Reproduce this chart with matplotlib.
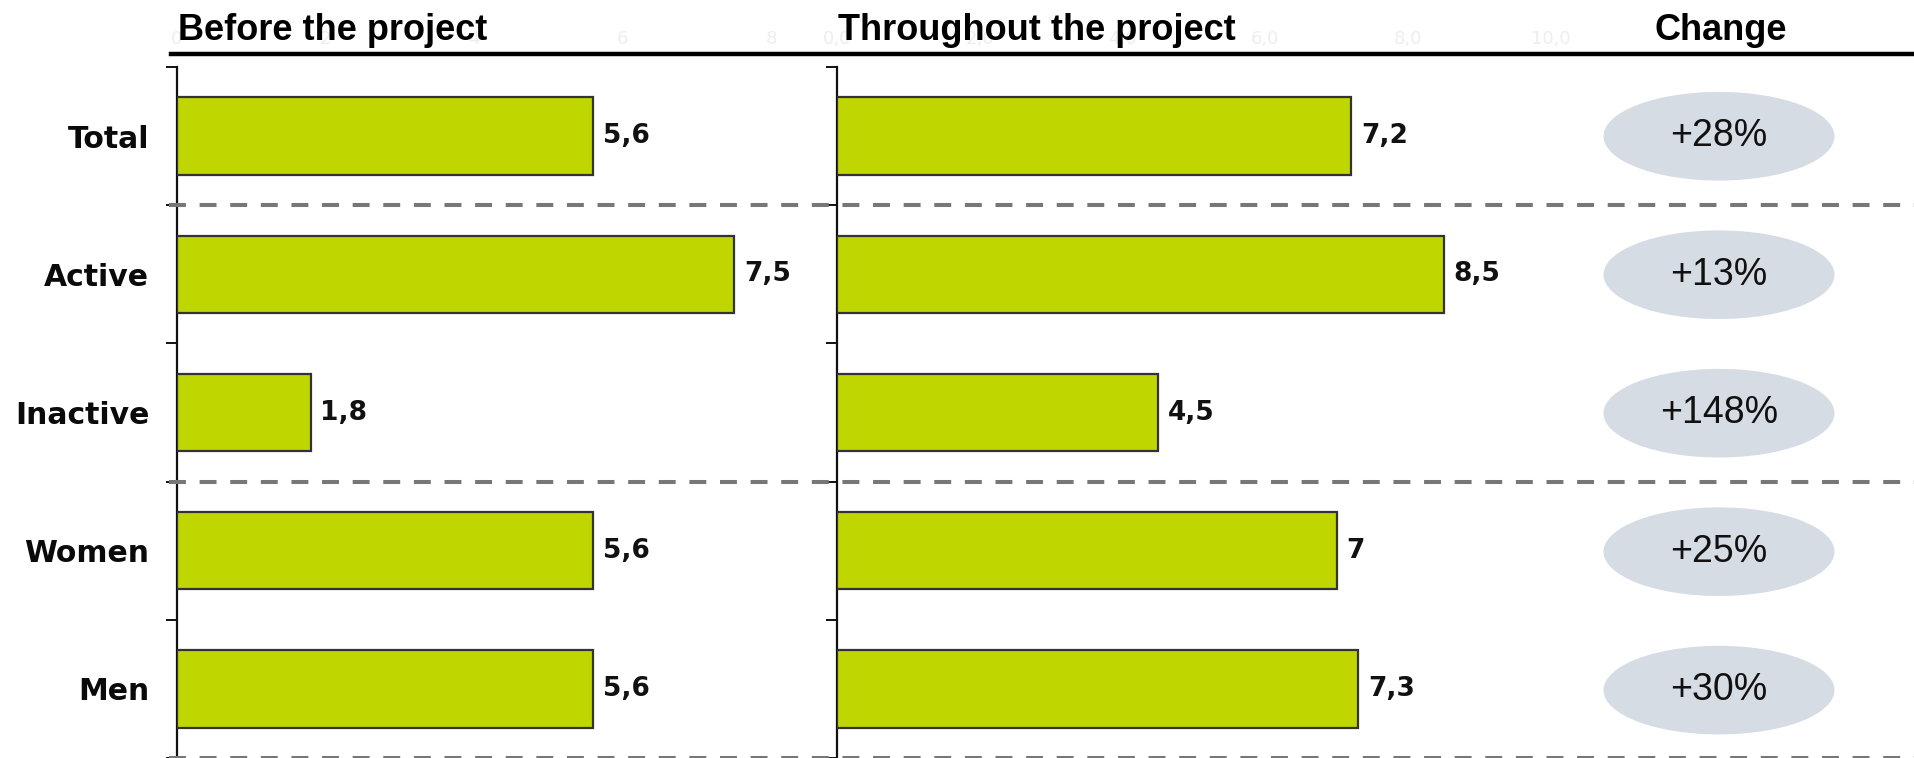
import matplotlib
matplotlib.use("Agg")
import matplotlib.pyplot as plt
from matplotlib.patches import Ellipse
from matplotlib.lines import Line2D
from matplotlib.transforms import blended_transform_factory

# Data
categories = ["Total", "Active", "Inactive", "Women", "Men"]
before_values = [5.6, 7.5, 1.8, 5.6, 5.6]
before_labels = ["5,6", "7,5", "1,8", "5,6", "5,6"]
during_values = [7.2, 8.5, 4.5, 7.0, 7.3]
during_labels = ["7,2", "8,5", "4,5", "7", "7,3"]
change_labels = ["+28%", "+13%", "+148%", "+25%", "+30%"]
before_ticks = [0, 2, 4, 6, 8]
before_tick_labels = ["0", "2", "4", "6", "8"]
during_ticks = [0, 2, 4, 6, 8, 10]
during_tick_labels = ["0,0", "2,0", "4,0", "6,0", "8,0", "10,0"]
group_breaks = [0.5, 2.5, 4.5]

W, H = 1914, 758
BAR_COLOR = "#bfd600"
EDGE = "#333333"
SANS = ["Liberation Sans", "DejaVu Sans"]
WIDE = ["DejaVu Sans"]

fig = plt.figure(figsize=(W / 100, H / 100), dpi=100)
fig.patch.set_facecolor("white")

y_top_px = 67
ax_top = 1 - y_top_px / H
ylim = (4.49, -0.5)


def px(x):
    return x / W


ax1 = fig.add_axes([px(177), 0, px(837 - 177), ax_top])
ax2 = fig.add_axes([px(837), 0, px(1590 - 837), ax_top])
ax3 = fig.add_axes([px(1590), 0, px(W - 1590), ax_top])

ypos = list(range(len(categories)))

for ax, vals, labs, xmax, ticks, tlabs in [
    (ax1, before_values, before_labels, (837 - 177) / 74.3, before_ticks, before_tick_labels),
    (ax2, during_values, during_labels, (1590 - 837) / 71.4, during_ticks, during_tick_labels),
]:
    ax.barh(ypos, vals, height=0.56, color=BAR_COLOR, edgecolor=EDGE, linewidth=1.6, zorder=3)
    for y, v, t in zip(ypos, vals, labs):
        ax.annotate(t, (v, y), xytext=(7, 0), textcoords="offset points",
                    va="center", ha="left", fontsize=19, fontweight="bold",
                    family=WIDE, color="#111111")
    ax.set_xlim(0, xmax)
    ax.set_ylim(*ylim)
    for s in ["top", "right", "bottom"]:
        ax.spines[s].set_visible(False)
    ax.spines["left"].set_linewidth(1.6)
    ax.spines["left"].set_color("#111111")
    ax.set_yticks([])
    ax.set_yticks([-0.5, 0.5, 1.5, 2.5, 3.5, 4.5], minor=True)
    ax.tick_params(axis="y", which="minor", length=8, width=1.4, direction="out", color="#111111")
    ax.xaxis.tick_top()
    ax.set_xticks(ticks)
    ax.set_xticklabels(tlabs, fontsize=13, color="#eeeeee")
    ax.tick_params(axis="x", length=0, pad=14)
    ax.set_facecolor("none")

ax1.set_yticks(ypos)
ax1.set_yticklabels(categories, fontsize=21.5, fontweight="bold", family=WIDE, color="#0a0a0a")
ax1.tick_params(axis="y", which="major", length=0, pad=20)

# Change column
ax3.set_xlim(0, W - 1590)
ax3.set_ylim(*ylim)
ax3.axis("off")
for y, t in zip(ypos, change_labels):
    ax3.add_patch(Ellipse((129, y), 231, 0.64, facecolor="#d6dce4", edgecolor="none", zorder=2))
    ax3.text(129, y, t, ha="center", va="center", fontsize=27, family=SANS, color="#111111", zorder=3)

# Group separators running across all panels
tr = blended_transform_factory(fig.transFigure, ax1.transData)
for yb in group_breaks:
    fig.add_artist(Line2D([px(169), 1.0], [yb, yb], transform=tr, color="#777777",
                          linewidth=2.9, dashes=(4.2, 3.4), zorder=1))

# Header rule and column titles
fig.add_artist(Line2D([px(171), 1.0], [1 - 54 / H, 1 - 54 / H], transform=fig.transFigure,
                      color="black", linewidth=3.2))
head_y = 1 - 31 / H
fig.text(px(178), head_y, "Before the project", ha="left", va="center", fontsize=26,
         fontweight="bold", family=SANS)
fig.text(px(838), head_y, "Throughout the project", ha="left", va="center", fontsize=26,
         fontweight="bold", family=SANS)
fig.text(px(1721), head_y, "Change", ha="center", va="center", fontsize=26,
         fontweight="bold", family=SANS)

fig.savefig("out.png", dpi=100, facecolor="white")
